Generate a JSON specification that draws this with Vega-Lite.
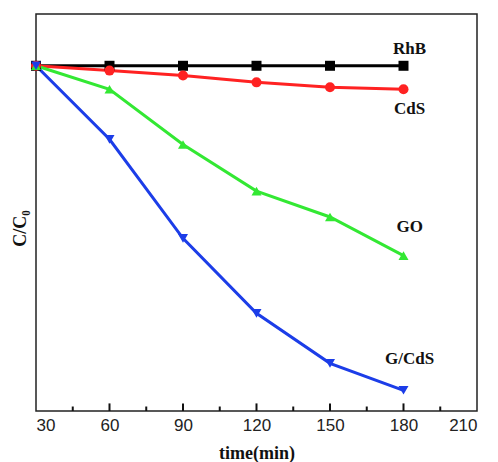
{
  "$schema": "https://vega.github.io/schema/vega-lite/v6.json",
  "width": 441,
  "height": 397,
  "autosize": {"type": "none"},
  "padding": {"left": 36, "top": 14, "right": 21, "bottom": 51},
  "background": "white",
  "config": {"view": {"stroke": "#222", "strokeWidth": 1.5}},
  "datasets": {
    "series": [
      {"t": 30, "series": "RhB", "v": 1.0},
      {"t": 60, "series": "RhB", "v": 1.0},
      {"t": 90, "series": "RhB", "v": 1.0},
      {"t": 120, "series": "RhB", "v": 1.0},
      {"t": 150, "series": "RhB", "v": 1.0},
      {"t": 180, "series": "RhB", "v": 1.0},
      {"t": 30, "series": "CdS", "v": 1.0},
      {"t": 60, "series": "CdS", "v": 0.986},
      {"t": 90, "series": "CdS", "v": 0.972},
      {"t": 120, "series": "CdS", "v": 0.952},
      {"t": 150, "series": "CdS", "v": 0.938},
      {"t": 180, "series": "CdS", "v": 0.932},
      {"t": 30, "series": "GO", "v": 1.0},
      {"t": 60, "series": "GO", "v": 0.932},
      {"t": 90, "series": "GO", "v": 0.772},
      {"t": 120, "series": "GO", "v": 0.637},
      {"t": 150, "series": "GO", "v": 0.562},
      {"t": 180, "series": "GO", "v": 0.45},
      {"t": 30, "series": "G/CdS", "v": 1.0},
      {"t": 60, "series": "G/CdS", "v": 0.787},
      {"t": 90, "series": "G/CdS", "v": 0.5},
      {"t": 120, "series": "G/CdS", "v": 0.283},
      {"t": 150, "series": "G/CdS", "v": 0.138},
      {"t": 180, "series": "G/CdS", "v": 0.06}
    ],
    "labels": [
      {"t": 182.5, "v": 1.05, "label": "RhB"},
      {"t": 182.5, "v": 0.876, "label": "CdS"},
      {"t": 182.5, "v": 0.534, "label": "GO"},
      {"t": 182.5, "v": 0.152, "label": "G/CdS"}
    ],
    "ticks": [
      {"t": 45, "lo": 0, "hi": 0.013}, {"t": 60, "lo": 0, "hi": 0.022}, {"t": 75, "lo": 0, "hi": 0.013},
      {"t": 90, "lo": 0, "hi": 0.022}, {"t": 105, "lo": 0, "hi": 0.013}, {"t": 120, "lo": 0, "hi": 0.022},
      {"t": 135, "lo": 0, "hi": 0.013}, {"t": 150, "lo": 0, "hi": 0.022}, {"t": 165, "lo": 0, "hi": 0.013},
      {"t": 180, "lo": 0, "hi": 0.022}, {"t": 195, "lo": 0, "hi": 0.013}
    ]
  },
  "layer": [
    {
      "data": {"name": "series"},
      "mark": {"type": "line", "strokeWidth": 3},
      "encoding": {
        "x": {"field": "t", "type": "quantitative", "scale": {"domain": [30, 210], "nice": false, "zero": false},
          "axis": {"values": [30, 60, 90, 120, 150, 180, 210], "grid": false, "domain": false, "ticks": false,
            "labelFont": "Liberation Sans", "labelFontSize": 17, "labelColor": "#222", "labelPadding": 6,
            "title": "time(min)", "titleFont": "Liberation Serif", "titleFontWeight": "bold", "titleFontSize": 18, "titleColor": "#111", "titlePadding": 11}},
        "y": {"field": "v", "type": "quantitative", "scale": {"domain": [0, 1.15], "nice": false, "zero": false},
          "axis": {"labels": false, "ticks": false, "domain": false, "grid": false,
            "title": "C/C₀", "titleFont": "Liberation Serif", "titleFontWeight": "bold", "titleFontSize": 18, "titleColor": "#111", "titlePadding": 7, "titleY": 214}},
        "color": {"field": "series", "type": "nominal", "legend": null,
          "scale": {"domain": ["RhB", "CdS", "GO", "G/CdS"], "range": ["#000000", "#ff2222", "#33e833", "#1c3de8"]}}
      }
    },
    {
      "data": {"name": "ticks"},
      "mark": {"type": "rule", "stroke": "#111111", "strokeWidth": 2, "opacity": 1},
      "encoding": {
        "x": {"field": "t", "type": "quantitative"},
        "y": {"field": "lo", "type": "quantitative"},
        "y2": {"field": "hi"}
      }
    },
    {
      "data": {"name": "series"},
      "mark": {"type": "point", "filled": true, "opacity": 1},
      "encoding": {
        "x": {"field": "t", "type": "quantitative"},
        "y": {"field": "v", "type": "quantitative"},
        "color": {"field": "series", "type": "nominal", "legend": null},
        "shape": {"field": "series", "type": "nominal", "legend": null,
          "scale": {"domain": ["RhB", "CdS", "GO", "G/CdS"], "range": ["square", "circle", "triangle-up", "triangle-down"]}},
        "size": {"value": 100}
      }
    },
    {
      "data": {"name": "labels"},
      "mark": {"type": "text", "font": "Liberation Serif", "fontWeight": "bold", "fontSize": 17, "color": "#111"},
      "encoding": {
        "x": {"field": "t", "type": "quantitative"},
        "y": {"field": "v", "type": "quantitative"},
        "text": {"field": "label", "type": "nominal"}
      }
    }
  ]
}
